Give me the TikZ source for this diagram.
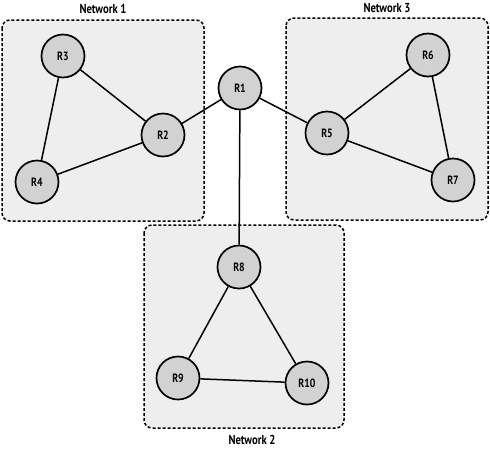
\documentclass[tikz,border=0pt]{standalone}
\usepackage{fontspec}
\setmainfont{PT Sans}[FakeStretch=0.82]
\begin{document}
\begin{tikzpicture}[x=1pt,y=-1pt,
  router/.style={circle,draw=black,line width=1.7pt,fill=gray!35,minimum size=43pt,inner sep=0pt,font=\bfseries\fontsize{12}{13}\selectfont},
  netbox/.style={draw=black,line width=1.5pt,dash pattern=on 3pt off 2pt,rounded corners=8pt,fill=gray!13},
  netlabel/.style={font=\bfseries\fontsize{13}{14}\selectfont},
  link/.style={line width=1.5pt}]
\useasboundingbox (0,0) rectangle (490,448);
\draw[netbox] (2,20) rectangle (204,221);
\draw[netbox] (286,18) rectangle (488,220);
\draw[netbox] (144,225) rectangle (344,428);
\node[netlabel] (n1) at (103,9) {Network 1};
\node[netlabel] (n3) at (387,8) {Network 3};
\node[netlabel] (n2) at (252,440) {Network 2};
\node[router] (R1) at (240,88) {R1};
\node[router] (R2) at (163,135) {R2};
\node[router] (R3) at (63,56) {R3};
\node[router] (R4) at (37,182) {R4};
\node[router] (R5) at (327,133) {R5};
\node[router] (R6) at (428,55) {R6};
\node[router] (R7) at (453,180) {R7};
\node[router] (R8) at (239,267) {R8};
\node[router] (R9) at (178,378) {R9};
\node[router] (R10) at (307,383) {R10};
\draw[link] (R1) -- (R2);
\draw[link] (R1) -- (R5);
\draw[link] (R1) -- (R8);
\draw[link] (R2) -- (R3);
\draw[link] (R3) -- (R4);
\draw[link] (R4) -- (R2);
\draw[link] (R5) -- (R6);
\draw[link] (R6) -- (R7);
\draw[link] (R7) -- (R5);
\draw[link] (R8) -- (R9);
\draw[link] (R9) -- (R10);
\draw[link] (R10) -- (R8);
\end{tikzpicture}
\end{document}
